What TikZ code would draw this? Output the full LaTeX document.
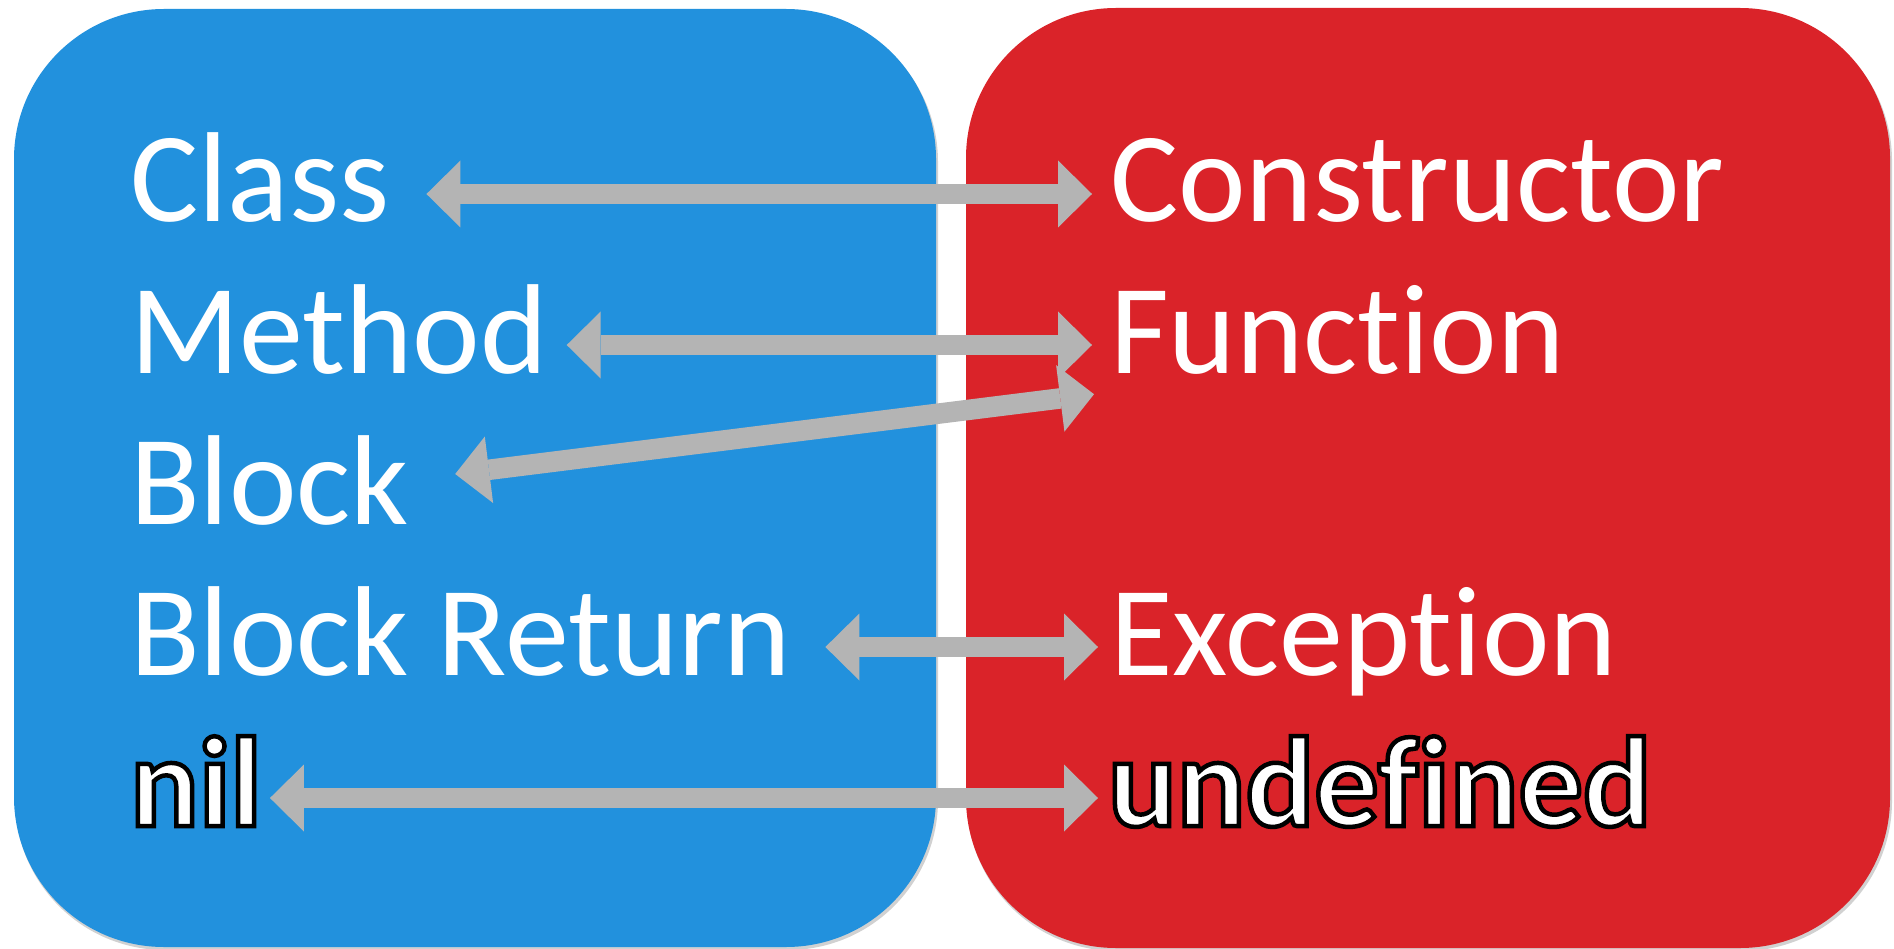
\documentclass[tikz,border=0pt]{standalone}
\usepackage{fontspec}
\setmainfont{Carlito}[Ligatures=NoCommon]
\newfontface\outlinefont{Carlito Bold}[Ligatures=NoCommon, RawFeature={embolden=3.5}]
\newcommand\outlined[1]{\special{pdf:bcolor [1] [0]}{\outlinefont #1}\special{pdf:ecolor}}
\usetikzlibrary{arrows.meta}

\definecolor{boxblue}{RGB}{34,145,221}
\definecolor{boxred}{RGB}{218,35,41}
\definecolor{arrowgray}{RGB}{180,180,180}

\begin{document}
\begin{tikzpicture}[
    x=1pt, y=-1pt,
    panel/.style={rounded corners=150pt},
    shade/.style={panel, fill=black!18},
    word/.style={text=white, inner sep=0pt, text height=56pt, text depth=0pt, anchor=base west, font=\fontsize{128}{150}\selectfont},
    biarrow/.style={{Triangle[length=34pt,width=67pt,line width=0pt]}-{Triangle[length=34pt,width=67pt,line width=0pt]}, draw=arrowgray, line width=20.5pt}
]
\useasboundingbox (0,0) rectangle (1894,949);

% the two panels
\fill[shade] (15,12) rectangle (938,950);
\fill[shade] (967,11) rectangle (1892,951);
\fill[panel, boxblue] (14,9) rectangle (936,947);
\fill[panel, boxred] (966,8) rectangle (1890,948);

% left column
\node[word] (class) at (130,222) {Class};
\node[word] (method) at (130,373) {Method};
\node[word] (block) at (130,524) {Block};
\node[word] (blockret) at (130,675) {Block Return};
\node[word] (nil) at (130,826) {\outlined{nil}};

% right column
\node[word] (ctor) at (1110,222) {Constructor};
\node[word] (func) at (1110,373) {Function};
\node[word] (exc) at (1110,675) {Exception};
\node[word] (undef) at (1108,826) {\outlined{undefined}};

% connectors
\draw[biarrow, shorten <=37pt, shorten >=18pt] (class.east) -- (ctor.west);
\draw[biarrow, shorten <=19pt, shorten >=18pt] (method.east) -- (func.west);
\draw[biarrow] ([shift={(46,-22)}]block.east) -- ([shift={(-16,21)}]func.south west);
\draw[biarrow, shorten <=35pt, shorten >=12pt] (blockret.east) -- (exc.west);
\draw[biarrow, shorten <=8pt, shorten >=10pt] (nil.east) -- (undef.west);

\end{tikzpicture}
\end{document}
